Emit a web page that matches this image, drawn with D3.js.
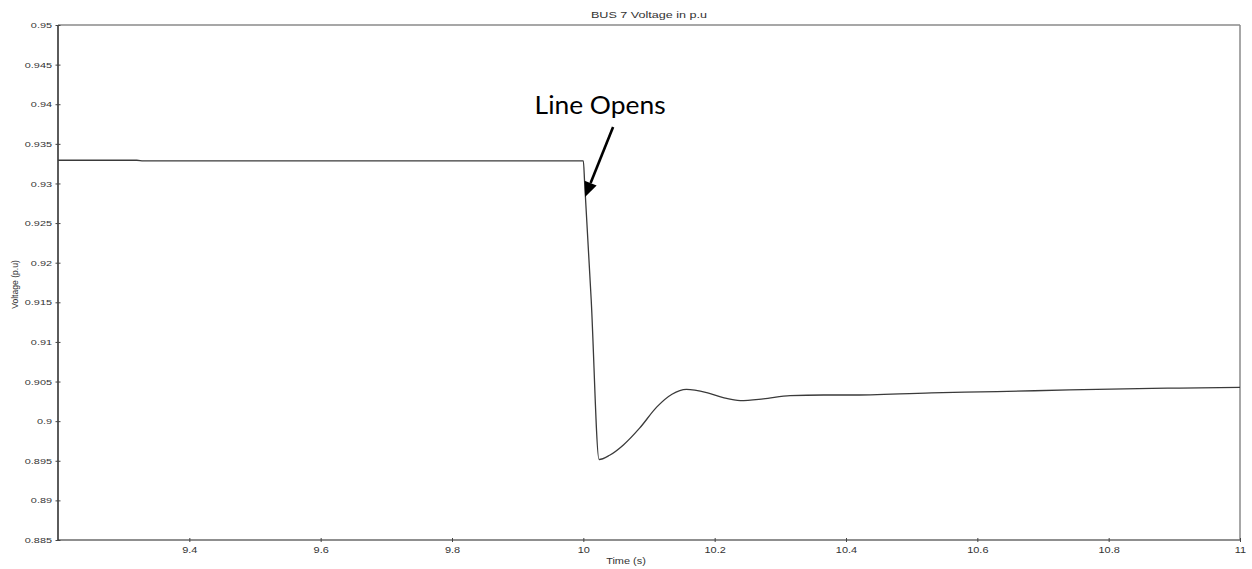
<!DOCTYPE html>
<html>
<head>
<meta charset="utf-8">
<script src="https://cdn.jsdelivr.net/npm/d3@7"></script>
<style>
  html, body { margin: 0; padding: 0; background: #fff; }
  svg { display: block; }
  text { font-family: "Liberation Sans", Arial, sans-serif; }
</style>
</head>
<body>
<svg id="chart" width="1252" height="569"></svg>
<script>
// Simulation time (s)
const timeS = [9.2, 9.32, 9.33, 10.0, 10.002, 10.012, 10.024, 10.04, 10.061, 10.086,
               10.112, 10.135, 10.157, 10.188, 10.213, 10.239, 10.274, 10.315, 10.366,
               10.406, 10.53, 10.63, 10.74, 10.89, 11.0];
// Bus 7 voltage (p.u.)
const voltagePu = [0.93293, 0.93293, 0.93285, 0.93285, 0.93006, 0.9153, 0.89516, 0.8957, 0.8970, 0.89915,
                   0.9018, 0.9034, 0.90402, 0.9036, 0.90296, 0.90258, 0.9028, 0.90322, 0.9033,
                   0.9033, 0.90358, 0.90372, 0.90395, 0.90416, 0.90427];

const xTickValues = [9.4, 9.6, 9.8, 10, 10.2, 10.4, 10.6, 10.8, 11];
const xTickLabels = ["9.4", "9.6", "9.8", "10", "10.2", "10.4", "10.6", "10.8", "11"];
const yTickValues = [0.885, 0.89, 0.895, 0.9, 0.905, 0.91, 0.915, 0.92, 0.925, 0.93, 0.935, 0.94, 0.945, 0.95];
const yTickLabels = ["0.885", "0.89", "0.895", "0.9", "0.905", "0.91", "0.915", "0.92", "0.925", "0.93", "0.935", "0.94", "0.945", "0.95"];

// Annotation: label, arrow tail and arrow tip, in data units
const noteText = "Line Opens";
const noteAt = { t: 10.0255, v: 0.93877 };
const arrowFrom = { t: 10.0453, v: 0.93713 };
const arrowTo = { t: 10.0026, v: 0.92829 };

const svg = d3.select("#chart");
const plot = { left: 58, right: 1240, top: 25, bottom: 540 };

const x = d3.scaleLinear().domain([9.2, 11]).range([plot.left, plot.right]);
const y = d3.scaleLinear().domain([0.885, 0.95]).range([plot.bottom, plot.top]);

// Horizontally widened text, as the plotting tool renders it
function widen(sel, sx) {
  sel.each(function () {
    const t = d3.select(this);
    const x0 = +t.attr("x") || 0;
    t.attr("x", x0 / sx).attr("transform", `scale(${sx},1)`);
  });
}

// Frame: top and right borders
svg.append("line").attr("x1", plot.left).attr("x2", plot.right).attr("y1", plot.top).attr("y2", plot.top)
  .attr("stroke", "#8a8a8a").attr("stroke-width", 1.5);
svg.append("line").attr("x1", plot.right).attr("x2", plot.right).attr("y1", plot.top).attr("y2", plot.bottom)
  .attr("stroke", "#8a8a8a").attr("stroke-width", 1.5);

// X axis
const gx = svg.append("g").attr("transform", `translate(0,${plot.bottom})`)
  .call(d3.axisBottom(x).tickValues(xTickValues)
    .tickFormat((d, i) => xTickLabels[i]).tickSizeOuter(0).tickSizeInner(3).tickPadding(4));
gx.select(".domain").attr("stroke", "#6a6a6a").attr("stroke-width", 1.5)
  .attr("d", `M${plot.left},0H${plot.right}`);
gx.selectAll(".tick line").attr("y1", -2).attr("y2", 2).attr("stroke", "#444");
gx.selectAll(".tick text").attr("fill", "#333").style("font-size", "8.3px");
widen(gx.selectAll(".tick text"), 1.32);

// Y axis
const gy = svg.append("g").attr("transform", `translate(${plot.left},0)`)
  .call(d3.axisLeft(y).tickValues(yTickValues)
    .tickFormat((d, i) => yTickLabels[i]).tickSizeOuter(0).tickSizeInner(3).tickPadding(3));
gy.select(".domain").attr("stroke", "#333").attr("stroke-width", 1.6)
  .attr("d", `M0,${plot.top}V${plot.bottom}`);
gy.selectAll(".tick line").attr("x1", -2.5).attr("x2", 2.5).attr("stroke", "#444");
gy.selectAll(".tick text").attr("fill", "#333").style("font-size", "8px");
widen(gy.selectAll(".tick text"), 1.36);

// Title and axis titles
svg.append("text").attr("x", (plot.left + plot.right) / 2 / 1.4).attr("y", 18)
  .attr("transform", "scale(1.4,1)").attr("text-anchor", "middle")
  .attr("fill", "#333").style("font-size", "9px").text("BUS 7 Voltage in p.u");
svg.append("text").attr("x", 626 / 1.32).attr("y", 564)
  .attr("transform", "scale(1.32,1)").attr("text-anchor", "middle")
  .attr("fill", "#333").style("font-size", "8.3px").text("Time (s)");
svg.append("text").attr("transform", `translate(18,${(plot.top + plot.bottom) / 2 + 2}) rotate(-90)`)
  .attr("text-anchor", "middle").attr("fill", "#333").style("font-size", "8.6px")
  .text("Voltage (p.u)");

// Voltage trace
const line = d3.line().x(d => x(d[0])).y(d => y(d[1])).curve(d3.curveMonotoneX);
svg.append("path").datum(timeS.map((t, i) => [t, voltagePu[i]]))
  .attr("d", line).attr("fill", "none").attr("stroke", "#3a3a3a").attr("stroke-width", 1.3);

// Annotation arrow
const ax1 = x(arrowFrom.t), ay1 = y(arrowFrom.v), ax2 = x(arrowTo.t), ay2 = y(arrowTo.v);
const ang = Math.atan2(ay2 - ay1, ax2 - ax1);
const headLen = 15, headHalf = 6.5;
const bx = ax2 - headLen * Math.cos(ang), by = ay2 - headLen * Math.sin(ang);
svg.append("line").attr("x1", ax1).attr("y1", ay1).attr("x2", bx).attr("y2", by)
  .attr("stroke", "#000").attr("stroke-width", 2.6);
svg.append("path")
  .attr("d", `M${ax2},${ay2}L${bx + headHalf * Math.sin(ang)},${by - headHalf * Math.cos(ang)}` +
             `L${bx - headHalf * Math.sin(ang)},${by + headHalf * Math.cos(ang)}Z`)
  .attr("fill", "#000");
svg.append("text").attr("x", x(noteAt.t)).attr("y", y(noteAt.v))
  .attr("text-anchor", "middle").attr("fill", "#000")
  .attr("textLength", 131).attr("lengthAdjust", "spacingAndGlyphs")
  .style("font-family", "Lato, 'Open Sans', sans-serif").style("font-size", "25px")
  .text(noteText);
</script>
</body>
</html>
